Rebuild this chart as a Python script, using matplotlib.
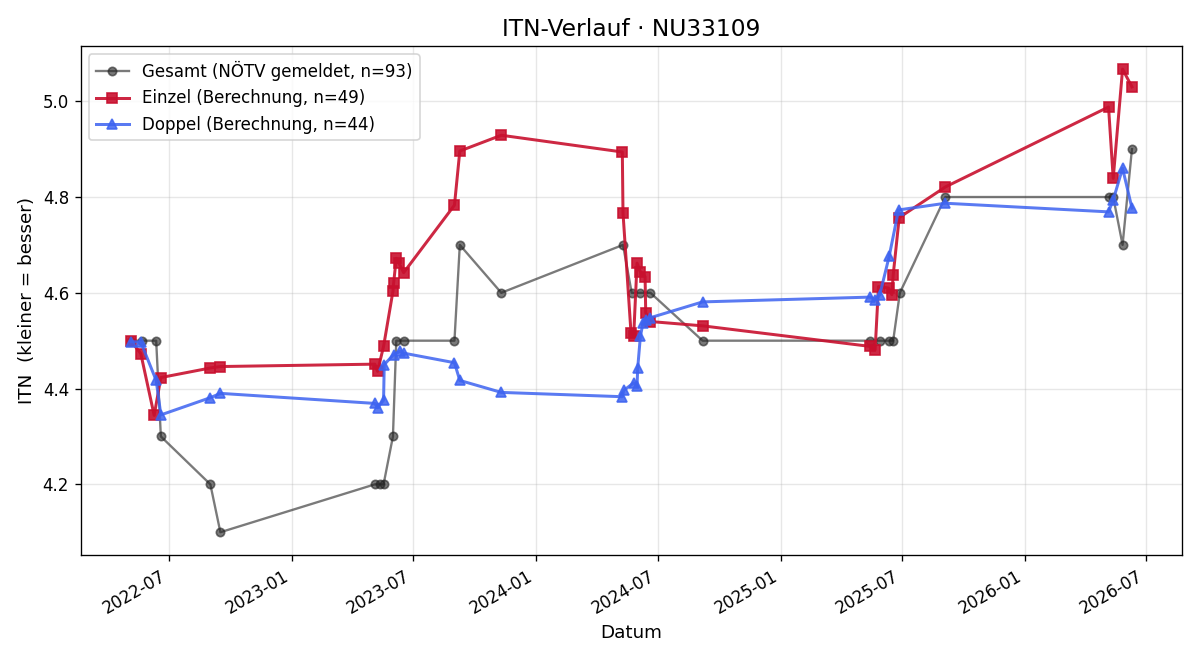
import numpy as np
import pandas as pd
import matplotlib
matplotlib.use("Agg")
import matplotlib.pyplot as plt
import matplotlib.dates as mdates

# ITN history for one player
gesamt_dates = ["2022-05-05", "2022-05-22", "2022-06-12", "2022-06-19", "2022-09-01", "2022-09-16",
                "2023-05-05", "2023-05-12", "2023-05-18", "2023-06-01", "2023-06-06", "2023-06-17",
                "2023-09-01", "2023-09-09", "2023-11-10", "2024-05-10", "2024-05-23", "2024-06-05",
                "2024-06-20", "2024-09-06", "2025-05-15", "2025-05-29", "2025-06-11", "2025-06-18",
                "2025-06-28", "2025-09-04", "2026-05-06", "2026-05-13", "2026-05-27", "2026-06-10"]
gesamt_itn = [4.5, 4.5, 4.5, 4.3, 4.2, 4.1,
              4.2, 4.2, 4.2, 4.3, 4.5, 4.5,
              4.5, 4.7, 4.6, 4.7, 4.6, 4.6,
              4.6, 4.5, 4.5, 4.5, 4.5, 4.5,
              4.6, 4.8, 4.8, 4.8, 4.7, 4.9]

einzel_dates = ["2022-05-05", "2022-05-20", "2022-06-09", "2022-06-19", "2022-09-01", "2022-09-16",
                "2023-05-05", "2023-05-09", "2023-05-18", "2023-06-01", "2023-06-02", "2023-06-06",
                "2023-06-10", "2023-06-17", "2023-09-01", "2023-09-09", "2023-11-10", "2024-05-09",
                "2024-05-10", "2024-05-22", "2024-05-26", "2024-05-31", "2024-06-05", "2024-06-12",
                "2024-06-13", "2024-06-20", "2024-09-06", "2025-05-15", "2025-05-22", "2025-05-27",
                "2025-06-11", "2025-06-16", "2025-06-18", "2025-06-27", "2025-09-04", "2026-05-06",
                "2026-05-13", "2026-05-27", "2026-06-10"]
einzel_itn = [4.500, 4.473, 4.344, 4.423, 4.443, 4.446,
              4.451, 4.436, 4.488, 4.603, 4.620, 4.672,
              4.662, 4.642, 4.783, 4.896, 4.929, 4.894,
              4.767, 4.516, 4.510, 4.662, 4.644, 4.634,
              4.558, 4.540, 4.531, 4.488, 4.481, 4.613,
              4.610, 4.596, 4.637, 4.757, 4.821, 4.988,
              4.839, 5.067, 5.030]

doppel_dates = ["2022-05-06", "2022-05-20", "2022-06-12", "2022-06-19", "2022-09-01", "2022-09-16",
                "2023-05-05", "2023-05-09", "2023-05-18", "2023-05-19", "2023-06-02", "2023-06-12",
                "2023-06-17", "2023-09-01", "2023-09-09", "2023-11-10", "2024-05-09", "2024-05-11",
                "2024-05-26", "2024-05-31", "2024-06-01", "2024-06-05", "2024-06-09", "2024-06-14",
                "2024-06-20", "2024-09-06", "2025-05-15", "2025-05-22", "2025-05-29", "2025-06-12",
                "2025-06-26", "2025-09-04", "2026-05-06", "2026-05-13", "2026-05-27", "2026-06-10"]
doppel_itn = [4.498, 4.497, 4.417, 4.345, 4.381, 4.390,
              4.369, 4.360, 4.376, 4.450, 4.471, 4.478,
              4.474, 4.454, 4.417, 4.392, 4.383, 4.396,
              4.412, 4.406, 4.443, 4.509, 4.537, 4.544,
              4.548, 4.581, 4.591, 4.585, 4.596, 4.676,
              4.773, 4.787, 4.769, 4.794, 4.860, 4.777]

fig, ax = plt.subplots(figsize=(10, 5.5), dpi=120)

ax.plot(pd.to_datetime(gesamt_dates), gesamt_itn, marker="o", ms=5, lw=1.4,
        color="#222222", alpha=0.6, label="Gesamt (NÖTV gemeldet, n=93)")
ax.plot(pd.to_datetime(einzel_dates), einzel_itn, marker="s", ms=6, lw=1.8,
        color="#c8102e", alpha=0.9, label="Einzel (Berechnung, n=49)")
ax.plot(pd.to_datetime(doppel_dates), doppel_itn, marker="^", ms=6, lw=1.8,
        color="#3d63f0", alpha=0.85, label="Doppel (Berechnung, n=44)")

ax.set_title("ITN-Verlauf · NU33109", fontsize=14)
ax.set_xlabel("Datum", fontsize=11)
ax.set_ylabel("ITN  (kleiner = besser)", fontsize=11)
ax.xaxis.set_major_locator(mdates.MonthLocator(bymonth=[1, 7]))
ax.xaxis.set_major_formatter(mdates.DateFormatter("%Y-%m"))
ax.grid(True, alpha=0.3)
ax.legend(loc="upper left")
fig.autofmt_xdate()

fig.tight_layout()
fig.savefig("out.png")
